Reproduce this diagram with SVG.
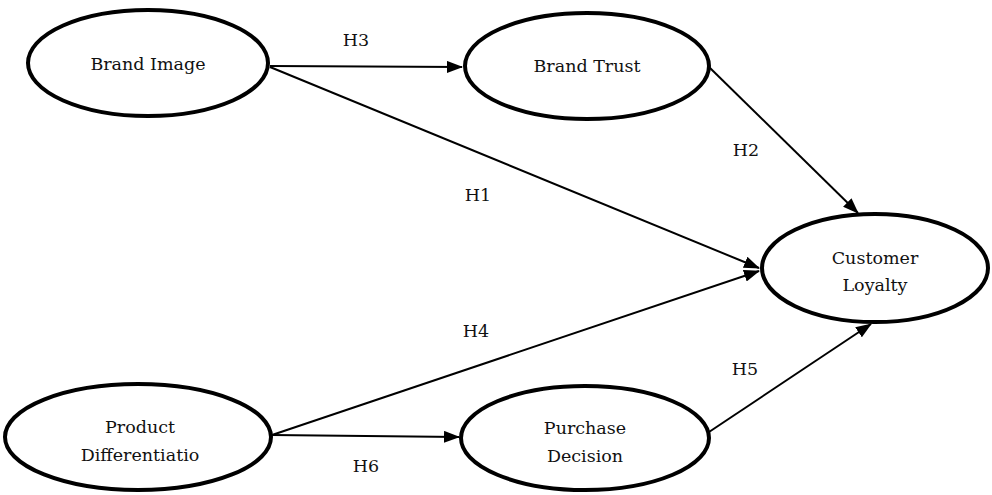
<svg xmlns="http://www.w3.org/2000/svg" width="992" height="495" viewBox="0 0 992 495">
<style>
.node ellipse{fill:#fff;stroke:#000;stroke-width:4}
.lbl{font-family:"DejaVu Serif","Liberation Serif",serif;font-size:17.5px;fill:#111;text-anchor:middle}
.conn line{stroke:#000;stroke-width:2;fill:none}
</style>
<defs>
<marker id="arr" markerUnits="userSpaceOnUse" markerWidth="16" markerHeight="12" refX="15" refY="6" orient="auto">
<path d="M0,0 L16,6 L0,12 Z" fill="#000"/>
</marker>
</defs>
<rect width="992" height="495" fill="#fff"/>
<g id="connectors" class="conn">
<line x1="270" y1="66" x2="462" y2="67" marker-end="url(#arr)"/>
<line x1="270" y1="67" x2="759" y2="268" marker-end="url(#arr)"/>
<line x1="709" y1="67" x2="858" y2="213" marker-end="url(#arr)"/>
<line x1="272" y1="435" x2="759" y2="271" marker-end="url(#arr)"/>
<line x1="272" y1="435" x2="459" y2="437" marker-end="url(#arr)"/>
<line x1="709" y1="432" x2="871" y2="324" marker-end="url(#arr)"/>
</g>
<g id="labels">
<text class="lbl" x="356" y="46">H3</text>
<text class="lbl" x="746" y="156">H2</text>
<text class="lbl" x="478" y="201">H1</text>
<text class="lbl" x="476" y="337">H4</text>
<text class="lbl" x="745" y="375">H5</text>
<text class="lbl" x="366" y="472">H6</text>
</g>
<g id="brand-image" class="node">
<ellipse cx="148" cy="63" rx="120" ry="53"/>
<text class="lbl" x="148" y="70">Brand Image</text>
</g>
<g id="brand-trust" class="node">
<ellipse cx="587" cy="66" rx="122" ry="53"/>
<text class="lbl" x="587" y="72">Brand Trust</text>
</g>
<g id="customer-loyalty" class="node">
<ellipse cx="875" cy="268" rx="113" ry="54"/>
<text class="lbl" x="875" y="264">Customer</text>
<text class="lbl" x="875" y="291">Loyalty</text>
</g>
<g id="product-differentiation" class="node">
<ellipse cx="138" cy="437" rx="133" ry="53"/>
<text class="lbl" x="140" y="433">Product</text>
<text class="lbl" x="140" y="461">Differentiatio</text>
</g>
<g id="purchase-decision" class="node">
<ellipse cx="585" cy="438" rx="124" ry="52"/>
<text class="lbl" x="585" y="434">Purchase</text>
<text class="lbl" x="585" y="462">Decision</text>
</g>
</svg>
